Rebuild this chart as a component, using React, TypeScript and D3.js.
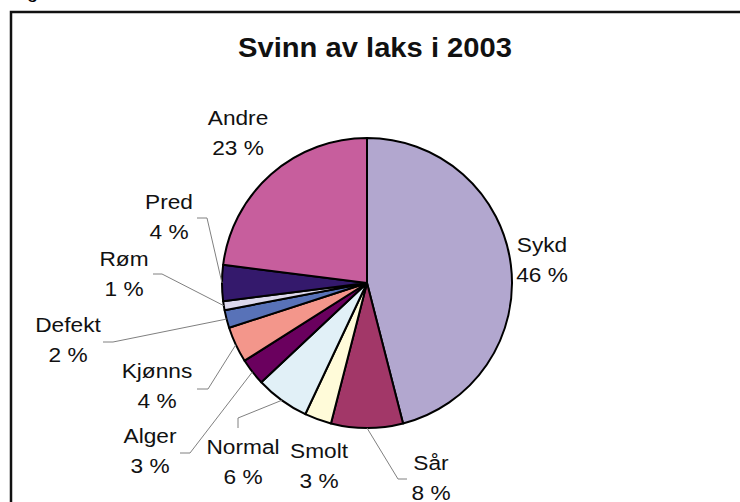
import React from "react";
import * as d3 from "d3";

const categories = ["Sykd", "Sår", "Smolt", "Normal", "Alger", "Kjønns", "Defekt", "Røm", "Pred", "Andre"];
const values = [46, 8, 3, 6, 3, 4, 2, 1, 4, 23];
const percentLabels = ["46 %", "8 %", "3 %", "6 %", "3 %", "4 %", "2 %", "1 %", "4 %", "23 %"];
const title = "Svinn av laks i 2003";

const colors = ["#B2A7CF", "#A23768", "#FFFBD9", "#E1F0F7", "#6A005E", "#F3968B", "#5872B8", "#DCD8EC", "#34196C", "#C75E9D"];

// label layout: center x, first-line baseline y, optional leader [elbowX, elbowY, endX, endY]
const labelLayout: { x: number; y: number; leader?: number[] }[] = [
  { x: 542, y: 252 },
  { x: 431, y: 470, leader: [398, 479, 407, 479] },
  { x: 319, y: 458 },
  { x: 243, y: 454, leader: [238, 418, 238, 428] },
  { x: 150, y: 443, leader: [190, 453, 180, 453] },
  { x: 157, y: 378, leader: [208, 389, 197, 389] },
  { x: 68, y: 332, leader: [113, 342, 103, 342] },
  { x: 124, y: 266, leader: [162, 274, 153, 274] },
  { x: 169, y: 209, leader: [207, 218, 197, 218] },
  { x: 238, y: 125 },
];

const W = 740;
const H = 502;
const cx = 367;
const cy = 283;
const R = 145;
const FONT = "'Liberation Sans', Arial, sans-serif";

export default function App() {
  const pie = d3.pie<number>().sort(null).value((d) => d);
  const arcs = pie(values);
  const arcGen = d3.arc<d3.PieArcDatum<number>>().innerRadius(0).outerRadius(R);

  return (
    <svg width={W} height={H} style={{ position: "absolute", left: 0, top: 0, background: "#fff" }}>
      <rect x={0} y={0} width={W} height={H} fill="#fff" />
      <text x={27} y={-2} fontFamily={FONT} fontSize={20} fill="#000">g</text>
      <rect x={11} y={12} width={W + 20} height={H + 20} fill="none" stroke="#111" strokeWidth={2.5} />
      <text
        transform={`translate(375,57) scale(1.08,1)`}
        textAnchor="middle"
        fontFamily={FONT}
        fontWeight="bold"
        fontSize={27}
        fill="#111"
      >
        {title}
      </text>
      <g transform={`translate(${cx},${cy})`}>
        {arcs.map((a, i) => (
          <path key={i} d={arcGen(a) || ""} fill={colors[i]} stroke="#000" strokeWidth={2} strokeLinejoin="round" />
        ))}
      </g>
      {arcs.map((a, i) => {
        const L = labelLayout[i];
        if (!L.leader) return null;
        const mid = (a.startAngle + a.endAngle) / 2;
        const sx = cx + R * Math.sin(mid);
        const sy = cy - R * Math.cos(mid);
        const [ex, ey, fx, fy] = L.leader;
        return (
          <polyline
            key={"l" + i}
            points={`${sx},${sy} ${ex},${ey} ${fx},${fy}`}
            fill="none"
            stroke="#808080"
            strokeWidth={1}
          />
        );
      })}
      {categories.map((c, i) => {
        const L = labelLayout[i];
        return (
          <g key={"t" + i} fontFamily={FONT} fontSize={21} fill="#111" textAnchor="middle">
            <text transform={`translate(${L.x},${L.y}) scale(1.08,1)`}>{c}</text>
            <text transform={`translate(${L.x},${L.y + 30}) scale(1.08,1)`}>{percentLabels[i]}</text>
          </g>
        );
      })}
    </svg>
  );
}
